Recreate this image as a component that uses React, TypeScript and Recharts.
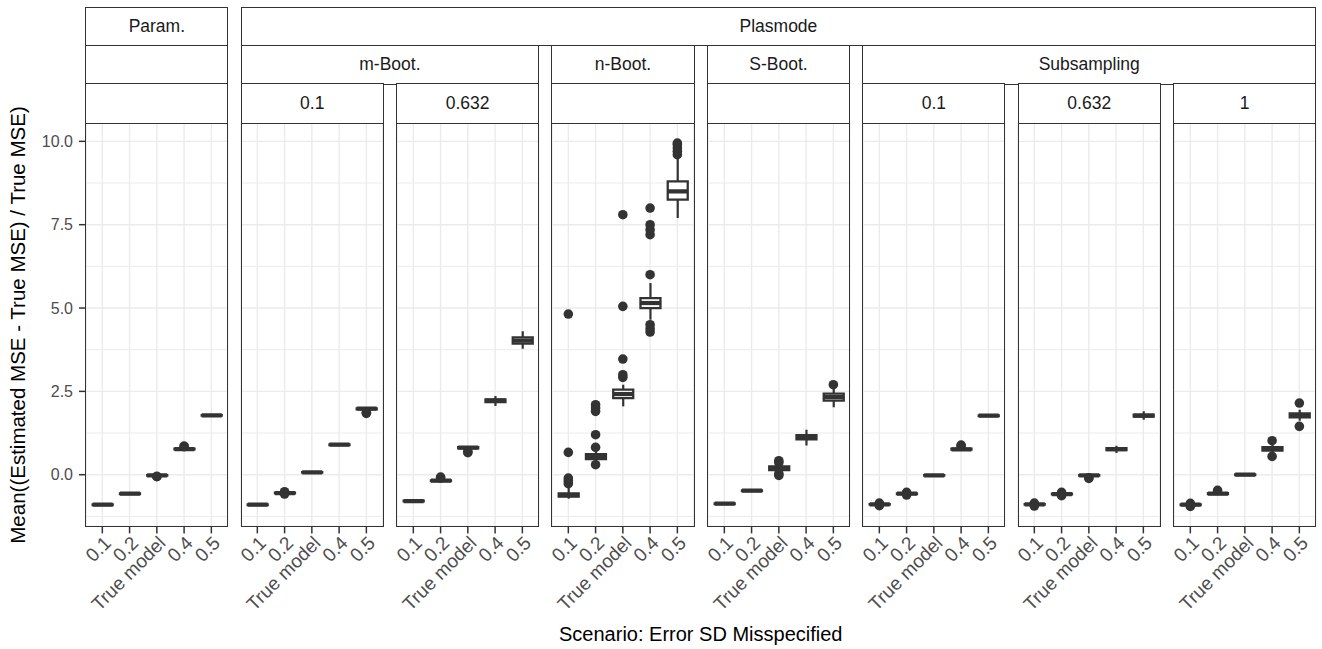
import React from 'react';
import { ComposedChart, Bar, Scatter, XAxis, YAxis, CartesianGrid } from 'recharts';

const CATEGORIES = ['0.1', '0.2', 'True model', '0.4', '0.5'];
const Y_TICKS = [0, 2.5, 5, 7.5, 10];
const Y_MINOR = [-1.25, 1.25, 3.75, 6.25, 8.75];
const Y_DOMAIN: [number, number] = [-1.55, 10.55];

// each row: [lower whisker, q1, median, q3, upper whisker], one row per scenario
const PARAM_BOX = [
  [-0.93, -0.91, -0.9, -0.89, -0.87],
  [-0.6, -0.58, -0.57, -0.56, -0.54],
  [-0.05, -0.03, -0.02, -0.01, 0.02],
  [0.74, 0.76, 0.77, 0.78, 0.8],
  [1.75, 1.77, 1.78, 1.79, 1.81],
];
// outliers: [scenario index, value]
const PARAM_OUT = [[2, -0.06], [2, -0.05], [3, 0.84], [3, 0.86]];

const MBOOT_01_BOX = [
  [-0.93, -0.91, -0.9, -0.89, -0.87],
  [-0.58, -0.56, -0.55, -0.54, -0.52],
  [0.04, 0.06, 0.07, 0.08, 0.1],
  [0.87, 0.89, 0.9, 0.91, 0.93],
  [1.93, 1.96, 1.98, 1.99, 2.02],
];
const MBOOT_01_OUT = [[1, -0.51], [1, -0.58], [4, 1.87], [4, 1.84]];

const MBOOT_0632_BOX = [
  [-0.82, -0.8, -0.79, -0.78, -0.76],
  [-0.21, -0.19, -0.18, -0.17, -0.15],
  [0.76, 0.79, 0.81, 0.83, 0.86],
  [2.06, 2.18, 2.22, 2.26, 2.36],
  [3.78, 3.93, 4.02, 4.12, 4.3],
];
const MBOOT_0632_OUT = [[1, -0.1], [1, -0.07], [2, 0.7], [2, 0.66]];

const NBOOT_BOX = [
  [-0.72, -0.66, -0.61, -0.56, -0.38],
  [0.35, 0.47, 0.54, 0.62, 0.76],
  [2.05, 2.3, 2.42, 2.55, 2.7],
  [4.65, 5.0, 5.15, 5.3, 5.75],
  [7.7, 8.25, 8.5, 8.8, 9.5],
];
const NBOOT_OUT = [
  [0, -0.27], [0, -0.18], [0, -0.1], [0, 0.67], [0, 4.82],
  [1, 0.3], [1, 0.82], [1, 1.2], [1, 1.9], [1, 2.0], [1, 2.1],
  [2, 2.92], [2, 3.0], [2, 3.47], [2, 5.05], [2, 7.8],
  [3, 4.5], [3, 4.38], [3, 4.28], [3, 6.0], [3, 7.2], [3, 7.35], [3, 7.5], [3, 8.0],
  [4, 9.6], [4, 9.7], [4, 9.8], [4, 9.9], [4, 9.95],
];

const SBOOT_BOX = [
  [-0.89, -0.88, -0.87, -0.86, -0.85],
  [-0.5, -0.49, -0.48, -0.47, -0.46],
  [0.05, 0.14, 0.19, 0.25, 0.33],
  [0.88, 1.06, 1.12, 1.19, 1.35],
  [2.02, 2.22, 2.33, 2.43, 2.6],
];
const SBOOT_OUT = [[2, -0.02], [2, 0.03], [2, 0.36], [2, 0.42], [4, 2.7]];

const SUB_01_BOX = [
  [-0.92, -0.9, -0.89, -0.88, -0.86],
  [-0.6, -0.58, -0.57, -0.56, -0.54],
  [-0.04, -0.03, -0.02, -0.01, 0.0],
  [0.73, 0.75, 0.76, 0.78, 0.8],
  [1.74, 1.76, 1.77, 1.78, 1.8],
];
const SUB_01_OUT = [[0, -0.85], [0, -0.93], [1, -0.53], [1, -0.61], [3, 0.86], [3, 0.89]];

const SUB_0632_BOX = [
  [-0.92, -0.9, -0.89, -0.88, -0.86],
  [-0.61, -0.59, -0.58, -0.57, -0.55],
  [-0.06, -0.03, -0.02, -0.01, 0.02],
  [0.65, 0.74, 0.77, 0.8, 0.87],
  [1.65, 1.74, 1.77, 1.8, 1.9],
];
const SUB_0632_OUT = [[0, -0.85], [0, -0.94], [1, -0.53], [1, -0.63], [2, -0.09], [2, -0.11]];

const SUB_1_BOX = [
  [-0.93, -0.91, -0.9, -0.89, -0.87],
  [-0.6, -0.58, -0.57, -0.55, -0.52],
  [-0.02, -0.01, 0.0, 0.01, 0.02],
  [0.67, 0.72, 0.78, 0.83, 0.9],
  [1.62, 1.72, 1.78, 1.84, 1.95],
];
const SUB_1_OUT = [[0, -0.86], [0, -0.95], [1, -0.47], [3, 1.02], [3, 0.55], [4, 2.15], [4, 1.45]];

const PANELS = [
  { box: PARAM_BOX, out: PARAM_OUT },
  { box: MBOOT_01_BOX, out: MBOOT_01_OUT },
  { box: MBOOT_0632_BOX, out: MBOOT_0632_OUT },
  { box: NBOOT_BOX, out: NBOOT_OUT },
  { box: SBOOT_BOX, out: SBOOT_OUT },
  { box: SUB_01_BOX, out: SUB_01_OUT },
  { box: SUB_0632_BOX, out: SUB_0632_OUT },
  { box: SUB_1_BOX, out: SUB_1_OUT },
];

// nested strip labels: [label, first panel, last panel]
const STRIP_ROW1: [string, number, number][] = [['Param.', 0, 0], ['Plasmode', 1, 7]];
const STRIP_ROW2: [string, number, number][] = [
  ['', 0, 0], ['m-Boot.', 1, 2], ['n-Boot.', 3, 3], ['S-Boot.', 4, 4], ['Subsampling', 5, 7],
];
const STRIP_ROW3: [string, number, number][] = [
  ['', 0, 0], ['0.1', 1, 1], ['0.632', 2, 2], ['', 3, 3], ['', 4, 4],
  ['0.1', 5, 5], ['0.632', 6, 6], ['1', 7, 7],
];

const FONT = 'Arial, "Liberation Sans", sans-serif';
const DARK = '#333333';
const PANEL_X0 = 86;
const PANEL_STEP = 155.4;
const PANEL_W = 141.7;
const PLOT_TOP = 123.3;
const PLOT_H = 403.4;
const ROWS = [7.3, 45.7, 84, 123.3];
const Y_AXIS_W = 60;
const MAX_OUT = 8;

const BoxShape = (props: any) => {
  const { x, y, width, height, payload } = props;
  const { lo, q1, med, q3, hi } = payload;
  const span = hi - lo;
  const py = (v: number) => (span > 0 ? y + ((hi - v) / span) * height : y);
  const cx = x + width / 2;
  return (
    <g>
      <line x1={cx} x2={cx} y1={py(hi)} y2={py(q3)} stroke={DARK} strokeWidth={2.2} />
      <line x1={cx} x2={cx} y1={py(q1)} y2={py(lo)} stroke={DARK} strokeWidth={2.2} />
      <path
        d={`M${x},${py(q3)}H${x + width}V${py(q1)}H${x}Z`}
        fill="#fff"
        stroke={DARK}
        strokeWidth={2.3}
      />
      <line x1={x} x2={x + width} y1={py(med)} y2={py(med)} stroke={DARK} strokeWidth={4.2} />
    </g>
  );
};

const Dot = (props: any) =>
  props.cy == null || Number.isNaN(props.cy) ? <g /> : <circle cx={props.cx} cy={props.cy} r={4.8} fill={DARK} />;

const XTick = ({ x, y, payload }: any) => (
  <g transform={`translate(${x},${y})`}>
    <text transform="rotate(-45)" textAnchor="end" dy="0.74em" fill="#4D4D4D" fontSize={19} fontFamily={FONT}>
      {payload.value}
    </text>
  </g>
);

const Panel = ({ index }: { index: number }) => {
  const { box, out } = PANELS[index];
  const rows = box.map((s, i) => {
    const row: any = { cat: CATEGORIES[i], lo: s[0], q1: s[1], med: s[2], q3: s[3], hi: s[4] };
    out.filter((o) => o[0] === i).forEach((o, k) => (row[`o${k}`] = o[1]));
    return row;
  });
  const first = index === 0;
  const left = PANEL_X0 + index * PANEL_STEP - (first ? Y_AXIS_W : 0);
  return (
    <div style={{ position: 'absolute', left, top: PLOT_TOP }}>
      <ComposedChart
        data={rows}
        width={PANEL_W + (first ? Y_AXIS_W : 0)}
        height={PLOT_H + 120}
        margin={{ top: 0, right: 0, bottom: 0, left: 0 }}
      >
        <CartesianGrid stroke="#EBEBEB" strokeWidth={1} horizontalValues={Y_MINOR} vertical={false} />
        <CartesianGrid stroke="#EBEBEB" strokeWidth={1.4} />
        <XAxis
          dataKey="cat"
          type="category"
          interval={0}
          padding={{ left: 2.7, right: 2.7 }}
          height={120}
          axisLine={false}
          tickLine={{ stroke: DARK, strokeWidth: 1.5 }}
          tickSize={7}
          tickMargin={1}
          tick={<XTick />}
        />
        <YAxis
          type="number"
          domain={Y_DOMAIN}
          ticks={Y_TICKS}
          allowDataOverflow
          hide={!first}
          width={Y_AXIS_W}
          axisLine={false}
          tickLine={{ stroke: DARK, strokeWidth: 1.5 }}
          tickSize={7}
          tickMargin={6}
          tickFormatter={(v: number) => v.toFixed(1)}
          tick={{ fill: '#4D4D4D', fontSize: 16, fontFamily: FONT }}
        />
        <Bar dataKey={(d: any) => [d.lo, d.hi]} barSize={20} shape={BoxShape} isAnimationActive={false} />
        {Array.from({ length: MAX_OUT }, (_, k) => (
          <Scatter key={k} dataKey={`o${k}`} shape={Dot} isAnimationActive={false} />
        ))}
      </ComposedChart>
    </div>
  );
};

const StripRow = ({ items, row }: { items: [string, number, number][]; row: number }) => (
  <>
    {items.map(([label, from, to], i) => (
      <div
        key={i}
        style={{
          position: 'absolute',
          left: PANEL_X0 + from * PANEL_STEP - 0.75,
          width: (to - from) * PANEL_STEP + PANEL_W + 1.5,
          top: ROWS[row] - 0.75,
          height: ROWS[row + 1] - ROWS[row] + 1.5,
          border: `1.5px solid ${DARK}`,
          boxSizing: 'border-box',
          background: '#fff',
          display: 'flex',
          alignItems: 'center',
          justifyContent: 'center',
          fontSize: 17.5,
          color: '#1A1A1A',
        }}
      >
        {label}
      </div>
    ))}
  </>
);

export default function App() {
  return (
    <div
      style={{
        position: 'absolute',
        left: 0,
        top: 0,
        width: 1322,
        height: 649,
        background: '#fff',
        fontFamily: FONT,
        overflow: 'hidden',
      }}
    >
      <style>{'.recharts-surface { overflow: visible; }'}</style>
      {PANELS.map((_, i) => (
        <Panel key={i} index={i} />
      ))}
      {PANELS.map((_, i) => (
        <div
          key={`b${i}`}
          style={{
            position: 'absolute',
            left: PANEL_X0 + i * PANEL_STEP - 0.75,
            top: PLOT_TOP - 0.75,
            width: PANEL_W + 1.5,
            height: PLOT_H + 1.5,
            border: `1.5px solid ${DARK}`,
            boxSizing: 'border-box',
            pointerEvents: 'none',
          }}
        />
      ))}
      <StripRow items={STRIP_ROW1} row={0} />
      <StripRow items={STRIP_ROW2} row={1} />
      <StripRow items={STRIP_ROW3} row={2} />
      <div
        style={{
          position: 'absolute',
          left: 18,
          top: PLOT_TOP + PLOT_H / 2,
          transform: 'translate(-50%, -50%) rotate(-90deg)',
          whiteSpace: 'nowrap',
          fontSize: 20.5,
          color: '#000',
        }}
      >
        Mean((Estimated MSE - True MSE) / True MSE)
      </div>
      <div
        style={{
          position: 'absolute',
          left: PANEL_X0 + (7 * PANEL_STEP + PANEL_W) / 2,
          top: 634,
          transform: 'translate(-50%, -50%)',
          whiteSpace: 'nowrap',
          fontSize: 20,
          color: '#000',
        }}
      >
        Scenario: Error SD Misspecified
      </div>
    </div>
  );
}
